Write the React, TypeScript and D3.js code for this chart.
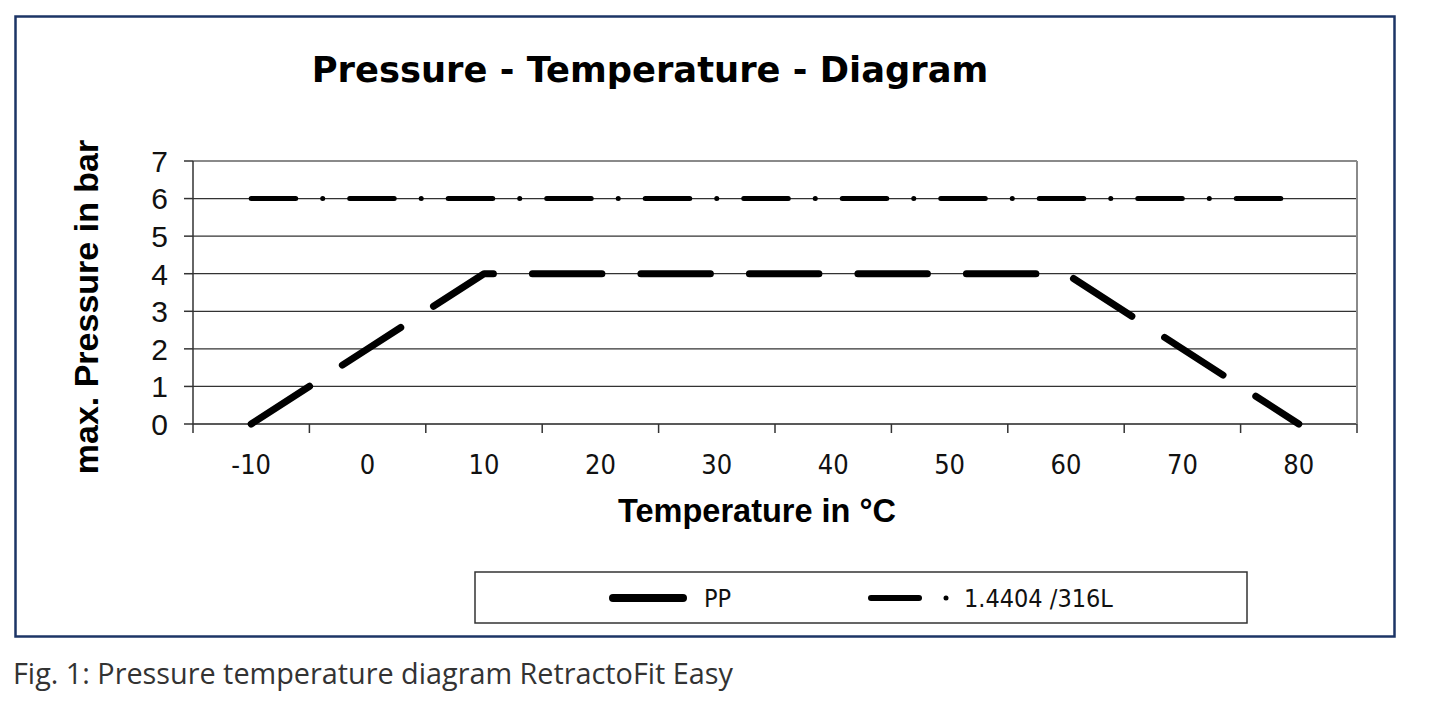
import React from "react";
import * as d3 from "d3";

const categories = [-10, 0, 10, 20, 30, 40, 50, 60, 70, 80];
const ppValues = [0, 2, 4, 4, 4, 4, 4, 4, 2, 0];
const steelValues = [6, 6, 6, 6, 6, 6, 6, 6, 6, 6];
const yTickValues = [0, 1, 2, 3, 4, 5, 6, 7];
const legendLabels = ["PP", "1.4404 /316L"];
const titleText = "Pressure - Temperature - Diagram";
const xTitle = "Temperature in °C";
const yTitle = "max. Pressure in bar";
const caption = "Fig. 1: Pressure temperature diagram RetractoFit Easy";

const W = 1440;
const H = 727;
const plot = { left: 193, right: 1357, top: 161, bottom: 424 };

export default function App() {
  const x = d3
    .scaleBand<number>()
    .domain(categories)
    .range([plot.left, plot.right])
    .paddingInner(0)
    .paddingOuter(0);
  const y = d3.scaleLinear().domain([0, 7]).range([plot.bottom, plot.top]);
  const cx = (c: number) => (x(c) as number) + x.bandwidth() / 2;

  const line = d3
    .line<number>()
    .x((_, i) => cx(categories[i]))
    .y((v) => y(v));

  const tickX = d3.range(categories.length + 1).map((i) => plot.left + i * x.bandwidth());

  const tahoma = "'DejaVu Sans Condensed', 'DejaVu Sans', sans-serif";
  const arial = "'Liberation Sans', Arial, sans-serif";

  return (
    <svg
      width={W}
      height={H}
      viewBox={`0 0 ${W} ${H}`}
      style={{ position: "absolute", left: 0, top: 0, background: "#fff" }}
    >
      <rect x={0} y={0} width={W} height={H} fill="#fff" />
      {/* outer frame */}
      <rect x={15.5} y={16.5} width={1379} height={620} fill="none" stroke="#1c3566" strokeWidth={2.5} />

      {/* title */}
      <text
        x={650}
        y={82}
        textAnchor="middle"
        fontFamily="'DejaVu Sans', Verdana, sans-serif"
        fontWeight="bold"
        fontSize={35.3}
        fill="#000"
      >
        {titleText}
      </text>

      {/* gridlines */}
      {yTickValues.map((v) => (
        <line
          key={"g" + v}
          x1={plot.left}
          x2={plot.right}
          y1={y(v)}
          y2={y(v)}
          stroke={v === 7 ? "#8a8a8a" : v === 0 ? "#222" : "#333"}
          strokeWidth={v === 7 ? 2 : 1.3}
        />
      ))}
      {/* right border */}
      <line x1={plot.right} x2={plot.right} y1={plot.top} y2={plot.bottom} stroke="#8a8a8a" strokeWidth={2} />
      {/* y axis */}
      <line x1={plot.left} x2={plot.left} y1={plot.top} y2={plot.bottom} stroke="#333" strokeWidth={1.5} />
      {yTickValues.map((v) => (
        <g key={"yt" + v}>
          <line x1={plot.left - 9} x2={plot.left} y1={y(v)} y2={y(v)} stroke="#333" strokeWidth={1.5} />
          <text
            x={168}
            y={y(v)}
            dy="0.36em"
            textAnchor="end"
            fontFamily={arial}
            fontSize={30}
            fill="#111"
          >
            {v}
          </text>
        </g>
      ))}
      {/* x axis ticks */}
      {tickX.map((t, i) => (
        <line key={"xt" + i} x1={t} x2={t} y1={plot.bottom} y2={plot.bottom + 9} stroke="#333" strokeWidth={1.5} />
      ))}
      {categories.map((c) => (
        <text
          key={"xl" + c}
          x={cx(c)}
          y={474}
          textAnchor="middle"
          fontFamily={tahoma}
          fontSize={27}
          fill="#111"
        >
          {c}
        </text>
      ))}

      {/* axis titles */}
      <text
        x={757}
        y={522}
        textAnchor="middle"
        fontFamily={arial}
        fontWeight="bold"
        fontSize={32.5}
        fill="#000"
      >
        {xTitle}
      </text>
      <text
        transform={`translate(98, 307) rotate(-90)`}
        textAnchor="middle"
        fontFamily={arial}
        fontWeight="bold"
        fontSize={34}
        fill="#000"
      >
        {yTitle}
      </text>

      {/* series */}
      <path
        d={line(steelValues) || ""}
        fill="none"
        stroke="#000"
        strokeWidth={5}
        strokeLinecap="round"
        strokeDasharray="44.5 27 0.01 27"
      />
      <path
        d={line(ppValues) || ""}
        fill="none"
        stroke="#000"
        strokeWidth={7}
        strokeLinecap="round"
        strokeLinejoin="round"
        strokeDasharray="69.5 39"
      />

      {/* legend */}
      <rect x={475} y={572} width={772} height={51} fill="#fff" stroke="#333" strokeWidth={1.5} />
      <line x1={613} x2={683} y1={598} y2={598} stroke="#000" strokeWidth={8} strokeLinecap="round" />
      <text x={704} y={607} fontFamily={tahoma} fontSize={25} fill="#111">
        {legendLabels[0]}
      </text>
      <line x1={871} x2={919} y1={598} y2={598} stroke="#000" strokeWidth={6} strokeLinecap="round" />
      <circle cx={946} cy={598} r={2.5} fill="#000" />
      <text x={964} y={607} fontFamily={tahoma} fontSize={25} fill="#111">
        {legendLabels[1]}
      </text>

      {/* caption */}
      <text x={13} y={684} fontFamily="'Open Sans', 'Noto Sans', sans-serif" fontSize={28.8} fill="#333">
        {caption}
      </text>
    </svg>
  );
}
